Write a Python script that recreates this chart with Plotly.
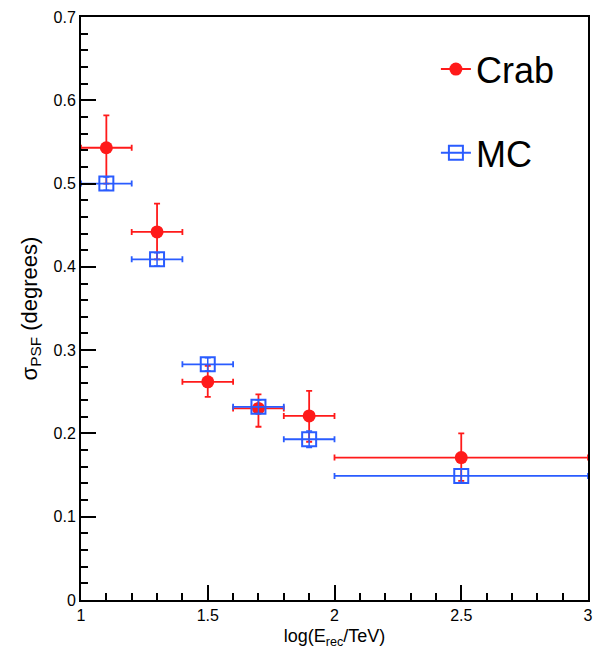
import plotly.graph_objects as go

# Data
x_crab = [1.1, 1.3, 1.5, 1.7, 1.9, 2.5]
xerr_crab = [0.1, 0.1, 0.1, 0.1, 0.1, 0.5]
y_crab = [0.543, 0.442, 0.262, 0.230, 0.221, 0.171]
yerr_crab_up = [0.039, 0.034, 0.019, 0.017, 0.030, 0.029]
yerr_crab_dn = [0.043, 0.033, 0.018, 0.022, 0.031, 0.028]

x_mc = [1.1, 1.3, 1.5, 1.7, 1.9, 2.5]
xerr_mc = [0.1, 0.1, 0.1, 0.1, 0.1, 0.5]
y_mc = [0.500, 0.409, 0.283, 0.232, 0.193, 0.149]
yerr_mc = [0.008, 0.008, 0.008, 0.008, 0.010, 0.008]

RED = "#ff1a1a"
BLUE = "#2a5cff"
NARROW = "Liberation Sans Narrow, Arial Narrow, Liberation Sans, Arial, sans-serif"
SANS = "Liberation Sans, Arial, sans-serif"

fig = go.Figure()

fig.add_trace(go.Scatter(
    x=x_crab, y=y_crab, mode="markers", showlegend=False,
    marker=dict(symbol="circle", size=13, color=RED),
    error_x=dict(type="data", array=xerr_crab, color=RED, thickness=1.8, width=3),
    error_y=dict(type="data", array=yerr_crab_up, arrayminus=yerr_crab_dn,
                 symmetric=False, color=RED, thickness=1.8, width=3),
))
fig.add_trace(go.Scatter(
    x=x_mc, y=y_mc, mode="markers", showlegend=False,
    marker=dict(symbol="square-open", size=14, color=BLUE, line=dict(width=2, color=BLUE)),
    error_x=dict(type="data", array=xerr_mc, color=BLUE, thickness=1.8, width=3),
    error_y=dict(type="data", array=yerr_mc, color=BLUE, thickness=1.5, width=3),
))

# legend entries
fig.add_trace(go.Scatter(
    x=[None], y=[None], mode="lines+markers", name="Crab", legendgroup="a",
    marker=dict(symbol="circle", size=13, color=RED),
    line=dict(color=RED, width=2),
))
fig.add_trace(go.Scatter(
    x=[None], y=[None], mode="lines+markers", name="MC", legendgroup="b",
    marker=dict(symbol="square-open", size=14, color=BLUE, line=dict(width=2, color=BLUE)),
    line=dict(color=BLUE, width=2),
))

fig.update_layout(
    width=602, height=667,
    margin=dict(l=81, r=9, t=17, b=67),
    paper_bgcolor="white", plot_bgcolor="white",
    font=dict(family=NARROW, color="black", size=16),
    legend=dict(
        x=0.70, y=0.962, xanchor="left", yanchor="top",
        font=dict(family=NARROW, size=36, color="black"),
        bgcolor="rgba(0,0,0,0)", tracegroupgap=34, traceorder="grouped",
        itemwidth=30,
    ),
    xaxis=dict(
        range=[1, 3], showgrid=False, zeroline=False,
        showline=True, linecolor="black", linewidth=2, mirror=True,
        ticks="inside", ticklen=15, tickwidth=1.5, tickcolor="black",
        tick0=1, dtick=0.5,
        minor=dict(ticks="inside", ticklen=7, tickwidth=1.5, tickcolor="black", dtick=0.1, showgrid=False),
        tickfont=dict(family=NARROW, size=16),
        title=dict(text="log(E<sub>rec</sub>/TeV)", font=dict(family=NARROW, size=18), standoff=6),
    ),
    yaxis=dict(
        range=[0, 0.7], showgrid=False, zeroline=False,
        showline=True, linecolor="black", linewidth=2, mirror=True,
        ticks="inside", ticklen=15, tickwidth=1.5, tickcolor="black",
        tick0=0, dtick=0.1,
        minor=dict(ticks="inside", ticklen=7, tickwidth=1.5, tickcolor="black", dtick=0.02, showgrid=False),
        tickfont=dict(family=NARROW, size=16),
        title=dict(text="σ<sub>PSF</sub> (degrees)", font=dict(family=SANS, size=22), standoff=10),
    ),
)

fig.write_html("out.html")
